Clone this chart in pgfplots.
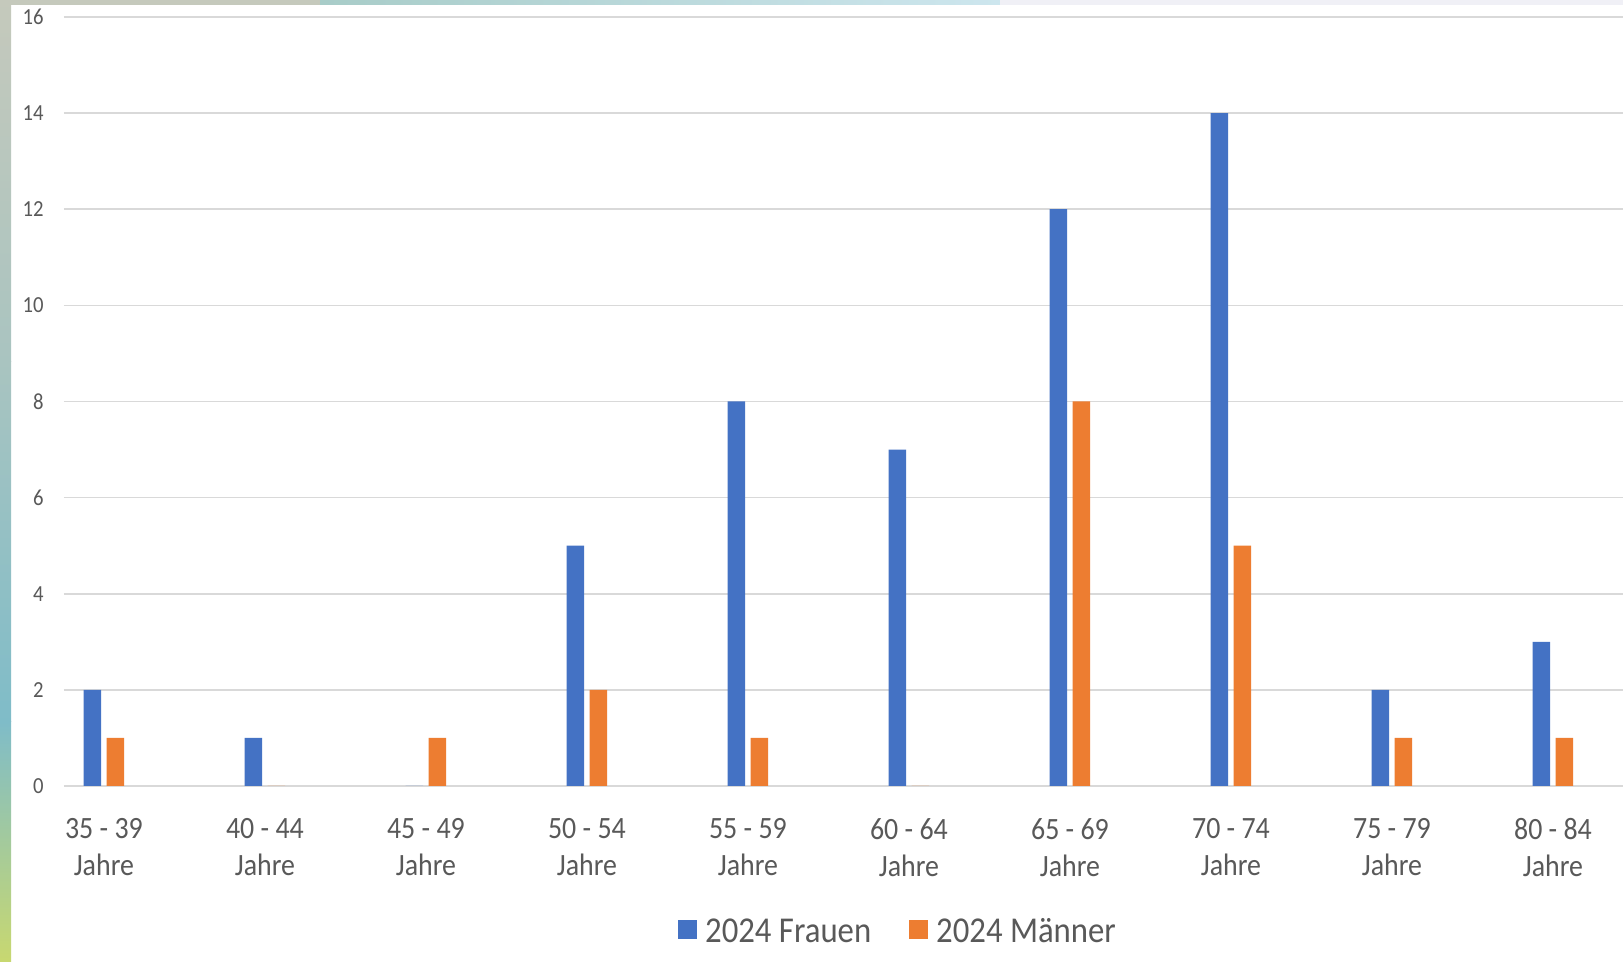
\documentclass[border=0pt]{standalone}
\usepackage{fontspec}
\setmainfont{Carlito}[FakeStretch=0.9]
\usepackage{pgfplots}
\pgfplotsset{compat=1.18}
\definecolor{cblue}{HTML}{4472C4}
\definecolor{corange}{HTML}{ED7D31}
\definecolor{tgray}{HTML}{595959}
\definecolor{ggray}{HTML}{D9D9D9}
\definecolor{s1}{HTML}{C5C9BC}
\definecolor{s2}{HTML}{A9C4C0}
\definecolor{s3}{HTML}{7FBCC8}
\definecolor{s4}{HTML}{C8D870}
\definecolor{t2}{HTML}{A8CCC8}
\definecolor{t3}{HTML}{CDE6EE}
\definecolor{t4}{HTML}{F0F0F6}
\begin{document}
\begin{tikzpicture}
\useasboundingbox (0,0) rectangle (811.5pt,481pt);
\fill[white] (0,0) rectangle (811.5pt,481pt);
% left strip
\shade[top color=s1, bottom color=s2] (0,300pt) rectangle (5.5pt,481pt);
\shade[top color=s2, bottom color=s3] (0,120pt) rectangle (5.5pt,300pt);
\shade[top color=s3, bottom color=s4] (0,0pt) rectangle (5.5pt,120pt);
% top strip
\fill[s1] (0,478.5pt) rectangle (160pt,481pt);
\shade[left color=t2, right color=t3] (160pt,478.5pt) rectangle (500pt,481pt);
\fill[t4] (500pt,478.5pt) rectangle (811.5pt,481pt);
\begin{axis}[
  at={(32pt,88pt)}, anchor=south west,
  scale only axis, width=779.5pt, height=384.5pt,
  xmin=-0.248, xmax=9.435, ymin=0, ymax=16,
  ytick={0,2,...,16},
  xtick={0,...,9},
  xticklabels={{35 - 39\\Jahre},{40 - 44\\Jahre},{45 - 49\\Jahre},{50 - 54\\Jahre},{55 - 59\\Jahre},{60 - 64\\Jahre},{65 - 69\\Jahre},{70 - 74\\Jahre},{75 - 79\\Jahre},{80 - 84\\Jahre}},
  /pgf/number format/assume math mode=true,
  axis line style={draw=none},
  major tick length=0pt,
  ymajorgrids, grid style={ggray, line width=0.8pt},
  yticklabel style={font=\fontsize{11.5}{12}\selectfont, text=tgray, anchor=east, inner sep=0pt, xshift=-10pt},
  xticklabel style={font=\fontsize{15.5}{18.5}\selectfont, text=tgray, align=center, anchor=north, inner sep=0pt, yshift=-16pt},
  ybar=2.75pt, bar width=8.75pt,
  legend style={at={(0.5356,-0.19)}, anchor=center, draw=none, fill=none,
    font=\fontsize{18.2}{19}\selectfont, text=tgray, legend columns=2,
    /tikz/every even column/.append style={column sep=17pt},
    legend cell align=left},
  legend image code/.code={\fill[#1] (0pt,-3.3pt) rectangle (9.5pt,6.2pt); \path (11.5pt,0pt);},
  clip=false,
]
\addplot[fill=cblue, draw=none] coordinates {(0,2) (1,1) (2,0) (3,5) (4,8) (5,7) (6,12) (7,14) (8,2) (9,3)};
\addplot[fill=corange, draw=none] coordinates {(0,1) (1,0) (2,1) (3,2) (4,1) (5,0) (6,8) (7,5) (8,1) (9,1)};
\legend{2024 Frauen, 2024 Männer}
\end{axis}
\end{tikzpicture}
\end{document}
